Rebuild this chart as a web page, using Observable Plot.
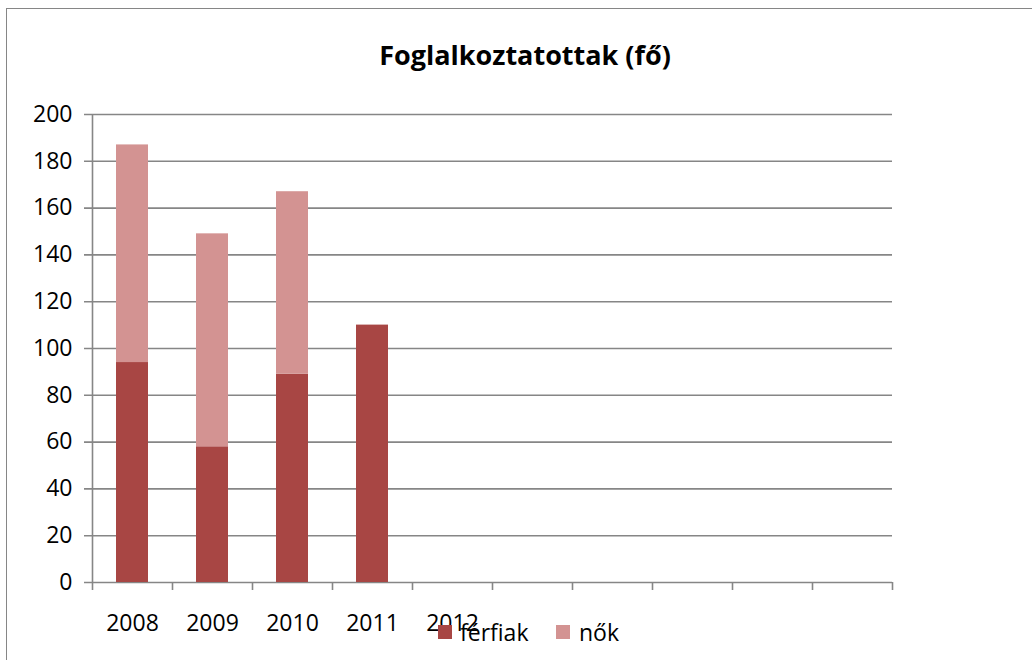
<!DOCTYPE html>
<html><head><meta charset="utf-8">
<script src="https://cdn.jsdelivr.net/npm/d3@7"></script>
<script src="https://cdn.jsdelivr.net/npm/@observablehq/plot@0.6"></script>
<style>
body{margin:0;background:#fff;}
#wrap{position:relative;width:1032px;height:660px;overflow:hidden;font-family:"Open Sans",sans-serif;color:#000;}
#frame{position:absolute;left:6px;top:8px;width:1100px;height:700px;border:1.5px solid #868686;box-sizing:border-box;}
#title{position:absolute;left:0;width:1050px;text-align:center;top:37px;font-weight:bold;font-size:27px;line-height:36px;}
#chart{position:absolute;left:0;top:0;}
.leg{position:absolute;top:617px;font-size:23px;line-height:31px;white-space:nowrap;}
.sw{position:absolute;width:14px;height:14px;top:625px;}
</style></head>
<body>
<div id="wrap">
  <div id="frame"></div>
  <div id="chart"></div>
  <div id="title">Foglalkoztatottak (fő)</div>
</div>
<script>
const years = ["2008", "2009", "2010", "2011", "2012"];
const emptySlots = ["s6", "s7", "s8", "s9", "s10"];
const slots = [...years, ...emptySlots];
const seriesNames = ["férfiak", "nők"];
const seriesColors = ["#A84644", "#D39392"];
const ferfiak = [94, 58, 89, 110, 0];
const nok = [93, 91, 78, 0, 0];
const yTicks = [0, 20, 40, 60, 80, 100, 120, 140, 160, 180, 200];

const rows = [];
years.forEach((yr, i) => {
  rows.push({year: yr, series: seriesNames[0], value: ferfiak[i]});
  rows.push({year: yr, series: seriesNames[1], value: nok[i]});
});

const grid = "#868686";
const chart = Plot.plot({
  width: 1032,
  height: 660,
  marginTop: 114,
  marginLeft: 92,
  marginRight: 140,
  marginBottom: 78,
  x: {domain: slots, paddingInner: 0.6, paddingOuter: 0.3, axis: null, label: null},
  y: {domain: [0, 200], axis: null, label: null},
  color: {domain: seriesNames, range: seriesColors},
  style: {fontFamily: "Open Sans, sans-serif", fontSize: "23px", color: "#000", background: "transparent", overflow: "visible"},
  marks: [
    Plot.ruleY(yTicks, {stroke: grid, strokeWidth: 1.6, strokeOpacity: 1, insetLeft: -8}),
    Plot.barY(rows, {x: "year", y: "value", fill: "series"}),
    Plot.ruleX([slots[0]], {y1: 0, y2: 200, dx: -40, stroke: grid, strokeWidth: 1.6}),
    Plot.axisX(slots, {tickSize: 8, tickFormat: () => "", label: null, dx: -40, stroke: grid, strokeWidth: 1.6, strokeOpacity: 1}),
    Plot.axisX([slots[slots.length - 1]], {tickSize: 8, tickFormat: () => "", label: null, dx: 40, stroke: grid, strokeWidth: 1.6, strokeOpacity: 1}),
    Plot.text(yTicks, {y: d => d, frameAnchor: "left", textAnchor: "end", dx: -20, fill: "#000", fontSize: 23}),
    Plot.text(years, {x: d => d, frameAnchor: "bottom", lineAnchor: "bottom", dy: 48, fill: "#000", fontSize: 23})
  ]
});
document.getElementById("chart").appendChild(chart);

const wrap = document.getElementById("wrap");
const legX = [[438, 460], [556, 579]];
seriesNames.forEach((name, i) => {
  const sw = document.createElement("div");
  sw.className = "sw";
  sw.style.left = legX[i][0] + "px";
  sw.style.background = seriesColors[i];
  wrap.appendChild(sw);
  const t = document.createElement("div");
  t.className = "leg";
  t.style.left = legX[i][1] + "px";
  t.textContent = name;
  wrap.appendChild(t);
});
</script>
</body></html>
